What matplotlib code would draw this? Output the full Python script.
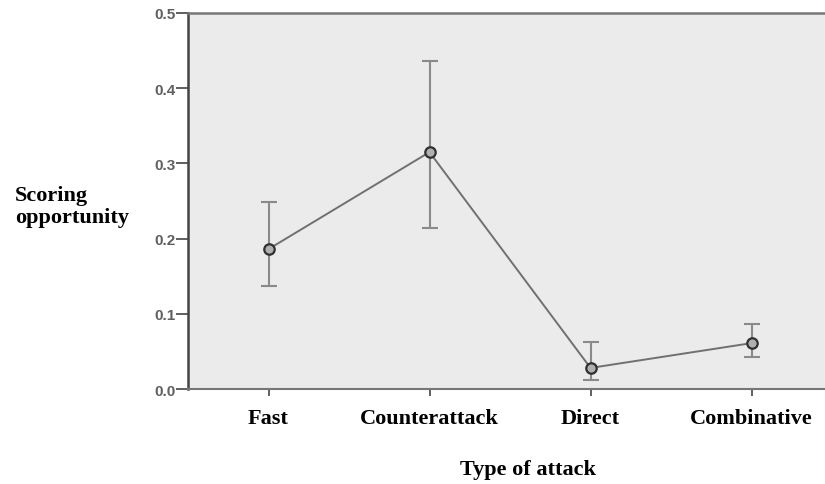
import matplotlib
matplotlib.use("Agg")
import matplotlib.pyplot as plt

categories = ["Fast", "Counterattack", "Direct", "Combinative"]
means = [0.186, 0.315, 0.028, 0.061]
lower = [0.137, 0.214, 0.012, 0.043]
upper = [0.249, 0.436, 0.062, 0.086]
yticks = [0.0, 0.1, 0.2, 0.3, 0.4, 0.5]

fig = plt.figure(figsize=(8.25, 4.85), dpi=100)
W, H = 825, 485
ax = fig.add_axes([188 / W, 1 - 390 / H, 644 / W, 376 / H])
ax.set_facecolor("#ebebeb")

x = list(range(len(categories)))
yerr = [[m - l for m, l in zip(means, lower)], [u - m for m, u in zip(means, upper)]]
ax.errorbar(x, means, yerr=yerr, fmt="none", ecolor="#8a8a8a", elinewidth=1.5,
            capsize=6, capthick=1.5, zorder=2)
ax.plot(x, means, color="#707070", linewidth=1.4, zorder=3)
ax.plot(x, means, linestyle="none", marker="o", markersize=7.5,
        markerfacecolor="#b0b0b0", markeredgecolor="#303030", markeredgewidth=1.6, zorder=4)

ax.set_xlim(-0.5, 3.5)
ax.set_ylim(0, 0.5)
ax.set_yticks(yticks)
ax.set_yticklabels([f"{v:.1f}" for v in yticks], family="Liberation Sans",
                   fontsize=11, color="#606060", fontweight="bold")
ax.set_xticks(x)
ax.set_xticklabels(categories, family="Liberation Serif", fontsize=16, fontweight="bold")
ax.tick_params(axis="y", length=9, width=1.2, color="#444444", pad=0)
ax.tick_params(axis="x", length=5, width=1.2, color="#444444", pad=9)

ax.spines["left"].set_color("#444444")
ax.spines["left"].set_linewidth(1.8)
ax.spines["top"].set_color("#777777")
ax.spines["top"].set_linewidth(1.8)
ax.spines["bottom"].set_color("#777777")
ax.spines["bottom"].set_linewidth(1.5)
ax.spines["right"].set_visible(False)

fig.text(15 / W, 1 - 207 / H, "Scoring\nopportunity", family="Liberation Serif",
         fontsize=16, fontweight="bold", ha="left", va="center", linespacing=1.1)
fig.text(528 / W, 1 - 470 / H, "Type of attack", family="Liberation Serif",
         fontsize=16, fontweight="bold", ha="center", va="center")

fig.savefig("out.png", dpi=100)
